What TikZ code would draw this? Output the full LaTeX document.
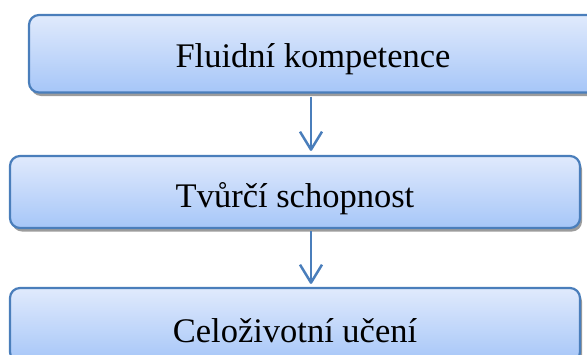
\documentclass[tikz,border=0pt]{standalone}
\usepackage{fontspec}
\setmainfont{Liberation Serif}
\usetikzlibrary{arrows.meta,shadows}
\definecolor{bordblue}{HTML}{4A7EBB}
\definecolor{filltop}{HTML}{E0EAFC}
\definecolor{fillbot}{HTML}{A6C6F8}
\definecolor{shadowgray}{HTML}{9C9C9C}
\tikzset{
  stagebox/.style={draw=bordblue, line width=2.2pt, rounded corners=10pt,
    top color=filltop, bottom color=fillbot, inner sep=0pt, text depth=0pt,
    font=\fontsize{34.5}{40}\selectfont,
    drop shadow={shadow xshift=2pt, shadow yshift=-3.5pt, fill=shadowgray, opacity=1}},
  flowarrow/.style={draw=bordblue, line width=2.5pt,
    -{Straight Barb[length=18pt,width=22pt,line join=round]}}
}
\begin{document}
\begin{tikzpicture}[x=1pt,y=-1pt]
\useasboundingbox (0,0) rectangle (587,354);
\clip (0,0) rectangle (587,354);
\node[stagebox, minimum width=568pt, minimum height=77.5pt, text height=26.5pt]
  (b1) at (313,53.75) {Fluidní kompetence};
\node[stagebox, minimum width=570pt, minimum height=72pt, text height=30pt]
  (b2) at (295,192) {Tvůrčí schopnost};
\node[stagebox, minimum width=570pt, minimum height=74pt, text height=34pt]
  (b3) at (295,325) {Celoživotní učení};
\coordinate (ax) at (311,0);
\draw[flowarrow, shorten <=3pt, shorten >=4pt] (b1.south -| ax) -- (b2.north -| ax);
\draw[flowarrow, shorten <=2pt, shorten >=3pt] (b2.south -| ax) -- (b3.north -| ax);
\end{tikzpicture}
\end{document}
